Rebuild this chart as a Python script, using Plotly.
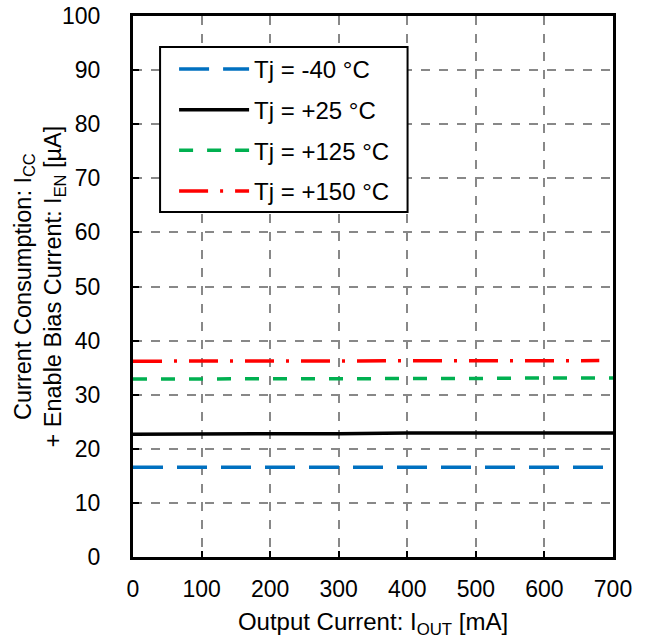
import plotly.graph_objects as go

x_all = [0, 100, 200, 300, 400, 500, 600, 700]
x_red = [0, 100, 200, 300, 400, 500, 600, 680]
y_m40 = [16.6, 16.6, 16.6, 16.6, 16.6, 16.6, 16.6, 16.6]
y_25 = [22.7, 22.7, 22.7, 22.8, 22.9, 22.9, 22.9, 22.9]
y_125 = [32.9, 32.9, 32.9, 32.9, 33.0, 33.0, 33.1, 33.1]
y_150 = [36.2, 36.2, 36.2, 36.2, 36.2, 36.2, 36.3, 36.3]
labels = ["Tj = -40 °C", "Tj = +25 °C", "Tj = +125 °C", "Tj = +150 °C"]
y_title = "Current Consumption: I<sub>CC</sub><br>+ Enable Bias Current: I<sub>EN</sub> [µA]"
x_title = "Output Current: I<sub>OUT</sub> [mA]"

fig = go.Figure()
fig.add_trace(go.Scatter(x=x_all, y=y_m40, mode="lines", name=labels[0], legendgroup="a",
                         line=dict(color="#0070C0", width=3.5, dash="30px,14px")))
fig.add_trace(go.Scatter(x=x_all, y=y_25, mode="lines", name=labels[1], legendgroup="b",
                         line=dict(color="#000000", width=3.5)))
fig.add_trace(go.Scatter(x=x_all, y=y_125, mode="lines", name=labels[2], legendgroup="c",
                         line=dict(color="#00B050", width=3.5, dash="14px,14px")))
fig.add_trace(go.Scatter(x=x_red, y=y_150, mode="lines", name=labels[3], legendgroup="d",
                         line=dict(color="#FF0000", width=3.5, dash="29px,12px,3px,12px")))

axis_common = dict(
    showline=True, linecolor="black", linewidth=3, mirror=True,
    ticks="inside", ticklen=6, tickwidth=1.5, tickcolor="black",
    showgrid=True, gridcolor="#888888", gridwidth=1.5, griddash="dash",
    zeroline=False, tickfont=dict(size=23, color="black"), automargin=False,
)

fig.add_shape(type="rect", xref="paper", yref="paper",
              x0=0.0564, x1=0.572, y0=0.6377, y1=0.9427,
              line=dict(color="black", width=2), fillcolor="white", layer="above")

fig.add_annotation(text=y_title, xref="paper", yref="paper", x=0, y=0.5,
                   xanchor="center", yanchor="middle", xshift=-94, textangle=-90,
                   showarrow=False, font=dict(size=23.5, color="black"))

fig.update_layout(
    width=646, height=639,
    margin=dict(l=133, r=33, t=16, b=82, autoexpand=False),
    paper_bgcolor="white", plot_bgcolor="white",
    font=dict(family="Liberation Sans, Arial, sans-serif", color="black", size=23),
    xaxis=dict(range=[0, 700], dtick=100, **axis_common, ticklabelstandoff=9,
               title=dict(text=x_title, font=dict(size=24), standoff=14)),
    yaxis=dict(range=[0, 100], dtick=10, **axis_common, ticklabelstandoff=25),
    legend=dict(x=0.0856, y=0.943, xanchor="left", yanchor="top",
                bgcolor="rgba(0,0,0,0)", borderwidth=0,
                font=dict(size=24), itemwidth=70, tracegroupgap=6.5),
    showlegend=True,
)

fig.write_html("out.html", config={"displayModeBar": False},
               post_script="document.body.style.margin='0';document.body.style.overflow='hidden';")
